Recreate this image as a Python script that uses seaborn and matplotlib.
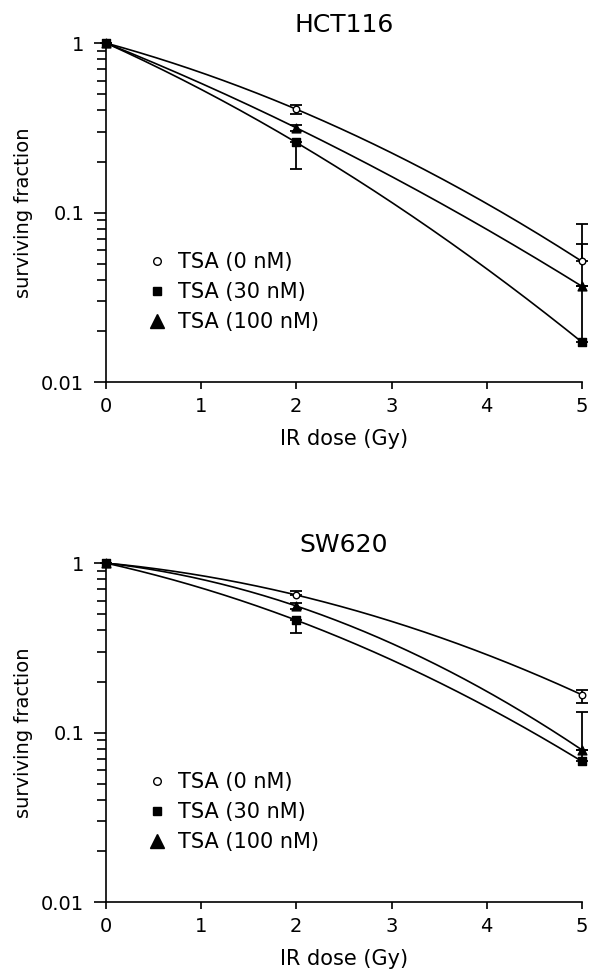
import numpy as np
import pandas as pd
import matplotlib
matplotlib.use("Agg")
import matplotlib.pyplot as plt
import seaborn as sns
from matplotlib.lines import Line2D
from matplotlib.ticker import LogLocator, FuncFormatter

dose = [0, 2, 5]
labels = ["TSA (0 nM)", "TSA (30 nM)", "TSA (100 nM)"]

hct_sf_0 = [1.0, 0.407, 0.0515]
hct_sf_30 = [1.0, 0.259, 0.0172]
hct_sf_100 = [1.0, 0.316, 0.0367]
hct_lo_0 = [0, 0.025, 0.0]
hct_hi_0 = [0, 0.025, 0.0135]
hct_lo_30 = [0, 0.078, 0.0]
hct_hi_30 = [0, 0.0, 0.068]
hct_lo_100 = [0, 0.014, 0.0]
hct_hi_100 = [0, 0.014, 0.0]

sw_sf_0 = [1.0, 0.648, 0.167]
sw_sf_30 = [1.0, 0.46, 0.0676]
sw_sf_100 = [1.0, 0.558, 0.079]
sw_lo_0 = [0, 0.0, 0.017]
sw_hi_0 = [0, 0.04, 0.012]
sw_lo_30 = [0, 0.073, 0.0]
sw_hi_30 = [0, 0.0, 0.065]
sw_lo_100 = [0, 0.02, 0.0]
sw_hi_100 = [0, 0.02, 0.0]

panels = [
    ("HCT116", [hct_sf_0, hct_sf_30, hct_sf_100],
     [hct_lo_0, hct_lo_30, hct_lo_100], [hct_hi_0, hct_hi_30, hct_hi_100]),
    ("SW620", [sw_sf_0, sw_sf_30, sw_sf_100],
     [sw_lo_0, sw_lo_30, sw_lo_100], [sw_hi_0, sw_hi_30, sw_hi_100]),
]

markers = ["o", "s", "^"]
faces = ["white", "black", "black"]
msizes = [22, 30, 40]

sns.set_style("ticks")
plt.rcParams["font.family"] = ["DejaVu Sans"]
plt.rcParams.update({
    "axes.linewidth": 1.2,
    "axes.edgecolor": "black",
    "text.color": "black",
    "axes.labelcolor": "black",
    "xtick.color": "black",
    "ytick.color": "black",
})


def lq_fit(d, sf):
    # linear-quadratic fit, ln S = -aD - bD^2
    d = np.asarray(d, float)
    A = np.column_stack([-d, -d ** 2])
    coef, *_ = np.linalg.lstsq(A, np.log(sf), rcond=None)
    grid = np.linspace(0, 5, 200)
    return grid, np.exp(-coef[0] * grid - coef[1] * grid ** 2)


fig = plt.figure(figsize=(5.95, 9.76), dpi=100)
ax_top = fig.add_axes([0.178, 0.6086, 0.8, 0.3473])
ax_bot = fig.add_axes([0.178, 0.0758, 0.8, 0.3473])

for ax, (title, sfs, los, his) in zip([ax_top, ax_bot], panels):
    for sf, lo, hi, m, fc, s in zip(sfs, los, his, markers, faces, msizes):
        gx, gy = lq_fit(dose, sf)
        sns.lineplot(x=gx, y=gy, color="black", linewidth=1.2, ax=ax, zorder=2)
        ax.errorbar(dose, sf, yerr=[lo, hi], fmt="none", ecolor="black",
                    elinewidth=1.3, capsize=4, capthick=1.3, clip_on=False, zorder=3)
        sns.scatterplot(x=dose, y=sf, marker=m, s=s, color=fc, edgecolor="black",
                        linewidth=1.0, ax=ax, zorder=4, clip_on=False)

    ax.set_yscale("log")
    ax.set_ylim(0.01, 1)
    ax.set_xlim(0, 5)
    ax.set_xticks([0, 1, 2, 3, 4, 5])
    ax.yaxis.set_major_locator(LogLocator(base=10, numticks=5))
    ax.yaxis.set_minor_locator(LogLocator(base=10, subs=np.arange(2, 10), numticks=20))
    ax.yaxis.set_major_formatter(FuncFormatter(lambda v, p: f"{v:g}"))
    ax.tick_params(axis="y", which="major", length=8.6, width=1.2, pad=7, labelsize=14)
    ax.tick_params(axis="y", which="minor", length=6.5, width=1.2)
    ax.tick_params(axis="x", which="major", length=5, width=1.2, pad=6, labelsize=14)
    sns.despine(ax=ax)

    ax.set_title(title, fontsize=18, pad=8)
    ax.set_xlabel("IR dose (Gy)", fontsize=15, labelpad=9)
    ax.set_ylabel("surviving fraction", fontsize=14, labelpad=6)

    handles = [
        Line2D([], [], linestyle="none", marker="o", markersize=5.5,
               markerfacecolor="white", markeredgecolor="black", markeredgewidth=1.0),
        Line2D([], [], linestyle="none", marker="s", markersize=6,
               markerfacecolor="black", markeredgecolor="black"),
        Line2D([], [], linestyle="none", marker="^", markersize=10,
               markerfacecolor="black", markeredgecolor="black"),
    ]
    ax.legend(handles, labels, loc="upper left", bbox_to_anchor=(0.085, 0.383),
              frameon=False, fontsize=15, handlelength=1.0, handletextpad=0.5,
              labelspacing=0.48, borderpad=0, borderaxespad=0)

fig.savefig("out.png", dpi=100)
